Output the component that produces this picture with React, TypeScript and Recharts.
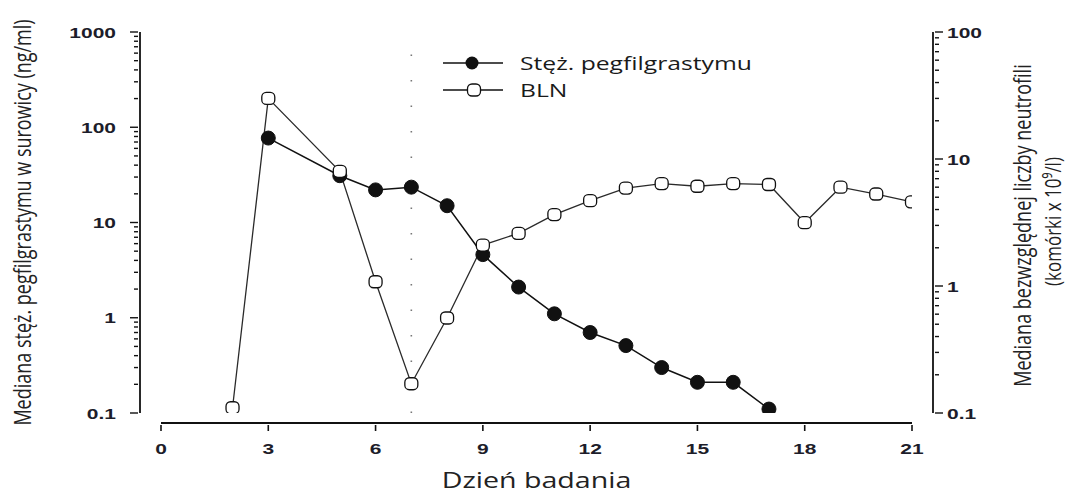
import React from 'react';
import { ComposedChart, Line, XAxis, YAxis, ReferenceLine, Legend } from 'recharts';

// day of study (x) and medians
const CONC_DAYS = [3, 5, 6, 7, 8, 9, 10, 11, 12, 13, 14, 15, 16, 17];
const CONC_VALUES = [77, 31, 22, 23.5, 15, 4.6, 2.1, 1.1, 0.7, 0.51, 0.3, 0.21, 0.21, 0.11];
const BLN_DAYS = [2, 3, 5, 6, 7, 8, 9, 10, 11, 12, 13, 14, 15, 16, 17, 18, 19, 20, 21];
const BLN_VALUES = [0.11, 30, 8, 1.08, 0.17, 0.56, 2.1, 2.6, 3.65, 4.7, 5.9, 6.4, 6.1, 6.4, 6.3, 3.15, 6.0, 5.3, 4.6];

const DAY_TICKS = [0, 3, 6, 9, 12, 15, 18, 21];
const LEFT_MAJOR = [0.1, 1, 10, 100, 1000];
const RIGHT_MAJOR = [0.1, 1, 10, 100];
const MINOR_STEPS = [2, 3, 4, 5, 6, 7, 8, 9];
const MARKER_DAY = 7;

const withMinor = (majors: number[]) =>
    majors.concat(majors.slice(0, -1).flatMap(d => MINOR_STEPS.map(m => d * m)));

const LEFT_TICKS = withMinor(LEFT_MAJOR);
const RIGHT_TICKS = withMinor(RIGHT_MAJOR);

const concData = CONC_DAYS.map((day, i) => ({ day, conc: CONC_VALUES[i] }));
const blnData = BLN_DAYS.map((day, i) => ({ day, bln: BLN_VALUES[i] }));

const INK = '#111';
const LABEL_INK = '#1d1d2a';
const SX = 1.3; // the source picture is stretched sideways
const AXIS_GAP = 21;
const TICK_FONT = '"Liberation Sans", Arial, sans-serif';
const TEXT_FONT = '"Open Sans", "Noto Sans", sans-serif';

const fmt = (v: number) => String(v);

const TickText = ({ x, y, anchor, children }: any) => (
    <text
        transform={`translate(${x},${y}) scale(1.4,1)`}
        textAnchor={anchor}
        fontFamily={TICK_FONT}
        fontWeight={700}
        fontSize={15}
        fill={LABEL_INK}
    >
        {children}
    </text>
);

const LeftTick = (props: any) => {
    const { x, y, payload } = props;
    const major = LEFT_MAJOR.includes(payload.value);
    const ax = x - AXIS_GAP;
    return (
        <g>
            <line x1={ax} x2={ax - (major ? 8 : 4)} y1={y} y2={y} stroke={INK} strokeWidth={1.4} />
            {major && <TickText x={ax - 22} y={y + 5.5} anchor="end">{fmt(payload.value)}</TickText>}
        </g>
    );
};

const RightTick = (props: any) => {
    const { x, y, payload } = props;
    const major = RIGHT_MAJOR.includes(payload.value);
    const ax = x + AXIS_GAP;
    return (
        <g>
            <line x1={ax} x2={ax + (major ? 8 : 4)} y1={y} y2={y} stroke={INK} strokeWidth={1.4} />
            {major && <TickText x={ax + 12} y={y + 5.5} anchor="start">{fmt(payload.value)}</TickText>}
        </g>
    );
};

const DayTick = (props: any) => {
    const { x, y, payload } = props;
    return (
        <g>
            <line x1={x} x2={x} y1={y + 10} y2={y + 16} stroke={INK} strokeWidth={1.6} />
            <TickText x={x} y={y + 39} anchor="middle">{fmt(payload.value)}</TickText>
        </g>
    );
};

const SquareDot = (props: any) => {
    const { cx, cy } = props;
    if (cx == null || cy == null) return null;
    return <rect x={cx - 6.5} y={cy - 6} width={13} height={12} rx={4.5} fill="#fff" stroke={INK} strokeWidth={1.3} />;
};

const RotatedTitle = ({ cx, cy, size, children }: any) => (
    <text
        transform={`translate(${cx},${cy}) scale(${SX},1) rotate(-90)`}
        textAnchor="middle"
        dominantBaseline="central"
        fontFamily={TEXT_FONT}
        fontSize={size}
        fill="#222"
    >
        {children}
    </text>
);

const LeftTitle = (props: any) => {
    const vb = props.viewBox;
    return <RotatedTitle cx={vb.x + 22} cy={vb.y + vb.height / 2} size={18}>Mediana stęż. pegfilgrastymu w surowicy (ng/ml)</RotatedTitle>;
};

const RightTitle = (props: any) => {
    const vb = props.viewBox;
    const cy = vb.y + vb.height / 2 + 3;
    return (
        <g>
            <RotatedTitle cx={vb.x + 110} cy={cy} size={18}>Mediana bezwzględnej liczby neutrofili</RotatedTitle>
            <RotatedTitle cx={vb.x + 141} cy={cy - 4} size={17}>(komórki x 10⁹/l)</RotatedTitle>
        </g>
    );
};

const DayTitle = (props: any) => {
    const vb = props.viewBox;
    return (
        <text
            transform={`translate(${vb.x + vb.width / 2},${vb.y + 75}) scale(${SX},1)`}
            textAnchor="middle"
            fontFamily={TEXT_FONT}
            fontSize={22}
            fill="#222"
        >
            Dzień badania
        </text>
    );
};

const LegendBox = () => (
    <svg width={420} height={60}>
        <line x1={3} x2={63} y1={18} y2={18} stroke={INK} strokeWidth={1.5} />
        <circle cx={32} cy={18} r={6.5} fill={INK} />
        <text transform={`translate(80,25) scale(1.3,1)`} fontFamily={TEXT_FONT} fontSize={19} fill="#1a1a1a">Stęż. pegfilgrastymu</text>
        <line x1={3} x2={63} y1={45} y2={45} stroke={INK} strokeWidth={1.3} />
        <SquareDot cx={34} cy={45} />
        <text transform={`translate(80,52) scale(1.3,1)`} fontFamily={TEXT_FONT} fontSize={19} fill="#1a1a1a">BLN</text>
    </svg>
);

export default function App() {
    return (
        <div style={{ position: 'absolute', left: 0, top: 0, background: '#fff' }}>
            <ComposedChart width={1067} height={494} margin={{ top: 32, right: 0, bottom: 0, left: 0 }}>
                <XAxis
                    dataKey="day"
                    type="number"
                    domain={[0, 21]}
                    ticks={DAY_TICKS}
                    interval={0}
                    height={81}
                    tickSize={0}
                    tickLine={false}
                    tick={DayTick}
                    axisLine={{ stroke: INK, strokeWidth: 1.8, transform: 'translate(0,10)' }}
                    allowDataOverflow
                    label={{ content: DayTitle }}
                />
                <YAxis
                    yAxisId="left"
                    scale="log"
                    domain={[0.1, 1000]}
                    ticks={LEFT_TICKS}
                    interval={0}
                    width={161}
                    tickSize={0}
                    tickLine={false}
                    tick={LeftTick}
                    axisLine={{ stroke: INK, strokeWidth: 1.8, transform: `translate(-${AXIS_GAP},0)` }}
                    allowDataOverflow
                    label={{ content: LeftTitle }}
                />
                <YAxis
                    yAxisId="right"
                    orientation="right"
                    scale="log"
                    domain={[0.1, 100]}
                    ticks={RIGHT_TICKS}
                    interval={0}
                    width={155}
                    tickSize={0}
                    tickLine={false}
                    tick={RightTick}
                    axisLine={{ stroke: INK, strokeWidth: 1.8, transform: `translate(${AXIS_GAP},0)` }}
                    allowDataOverflow
                    label={{ content: RightTitle }}
                />
                <ReferenceLine
                    yAxisId="left"
                    x={MARKER_DAY}
                    stroke="#777"
                    strokeWidth={1.6}
                    strokeDasharray="1.5 24"
                />
                <Line
                    yAxisId="left"
                    data={concData}
                    dataKey="conc"
                    stroke={INK}
                    strokeWidth={1.5}
                    dot={{ r: 7, fill: INK, stroke: INK, strokeWidth: 1 }}
                    activeDot={false}
                    isAnimationActive={false}
                />
                <Line
                    yAxisId="right"
                    data={blnData}
                    dataKey="bln"
                    stroke="#2a2a2a"
                    strokeWidth={1.3}
                    dot={<SquareDot />}
                    activeDot={false}
                    isAnimationActive={false}
                />
                <Legend
                    layout="vertical"
                    align="center"
                    verticalAlign="middle"
                    wrapperStyle={{ position: 'absolute', left: 440, top: 45, width: 420, height: 60 }}
                    content={() => <LegendBox />}
                />
            </ComposedChart>
        </div>
    );
}
